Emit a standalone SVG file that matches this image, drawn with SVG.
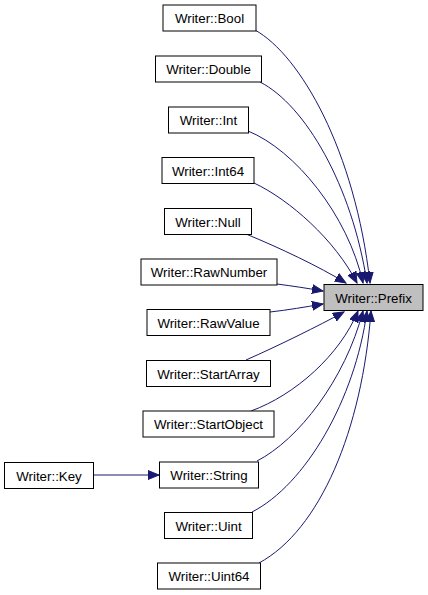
<svg xmlns="http://www.w3.org/2000/svg" width="428" height="595" viewBox="0 0 428 595">
<style>
.n rect{fill:#fff;stroke:#000;stroke-width:1}
#prefix rect{fill:#bfbfbf}
.n text{font-family:"Liberation Sans",Arial,sans-serif;font-size:13.3px;text-anchor:middle;fill:#000}
.e path{fill:none;stroke:#191970;stroke-width:1;marker-end:url(#ah)}
</style>
<defs>
<marker id="ah" markerUnits="userSpaceOnUse" markerWidth="12" markerHeight="10" viewBox="0 0 12 10" refX="11" refY="5" orient="auto">
<path d="M0,0.5 L11,5 L0,9.5 Z" fill="#191970" stroke="#191970"/>
</marker>
</defs>
<rect width="428" height="595" fill="#fff"/>
<g class="e" id="edges">
<path d="M255,30 C300,55 355,150 370,283"/>
<path d="M260,82 C305,105 352,185 367,283"/>
<path d="M248,131 C295,150 348,215 363,283"/>
<path d="M254,183 C290,200 335,240 357,283"/>
<path d="M246,234 C280,248 318,266 346,283"/>
<path d="M277,284 C292,286 306,288 323,291"/>
<path d="M270,312 C288,310 305,307 323,304"/>
<path d="M246,360 C280,345 318,326 344,312"/>
<path d="M251,411 C295,395 340,355 358,311"/>
<path d="M257,461 C298,440 345,380 363,311"/>
<path d="M252,512 C305,485 355,400 367,311"/>
<path d="M259,563 C320,530 362,430 371,311"/>
<path d="M93,475 L159,475"/>
</g>
<g class="n" id="bool"><rect x="163" y="5" width="93" height="26"/><text x="209.5" y="23">Writer::Bool</text></g>
<g class="n" id="double"><rect x="155.5" y="56" width="106" height="26"/><text x="208.5" y="74">Writer::Double</text></g>
<g class="n" id="int"><rect x="168.5" y="107" width="80" height="26"/><text x="208.5" y="125">Writer::Int</text></g>
<g class="n" id="int64"><rect x="162" y="157.5" width="92" height="26"/><text x="208" y="175.5">Writer::Int64</text></g>
<g class="n" id="null"><rect x="164.5" y="208.5" width="87" height="26"/><text x="208" y="226.5">Writer::Null</text></g>
<g class="n" id="rawnumber"><rect x="141" y="259" width="136" height="26"/><text x="209" y="277">Writer::RawNumber</text></g>
<g class="n" id="rawvalue"><rect x="147" y="309.5" width="123" height="26"/><text x="208.5" y="327.5">Writer::RawValue</text></g>
<g class="n" id="startarray"><rect x="146.5" y="360.5" width="124" height="26"/><text x="208.5" y="378.5">Writer::StartArray</text></g>
<g class="n" id="startobject"><rect x="143" y="411" width="131" height="26"/><text x="208.5" y="429">Writer::StartObject</text></g>
<g class="n" id="string"><rect x="159.5" y="462" width="99" height="26"/><text x="209" y="480">Writer::String</text></g>
<g class="n" id="uint"><rect x="164.5" y="512.5" width="88" height="26"/><text x="208.5" y="530.5">Writer::Uint</text></g>
<g class="n" id="uint64"><rect x="157.5" y="563" width="103" height="26"/><text x="209" y="581">Writer::Uint64</text></g>
<g class="n" id="key"><rect x="4.5" y="462.5" width="89" height="26"/><text x="49" y="480.5">Writer::Key</text></g>
<g class="n" id="prefix"><rect x="324" y="284.5" width="99" height="26"/><text x="373.5" y="302.5">Writer::Prefix</text></g>
</svg>
